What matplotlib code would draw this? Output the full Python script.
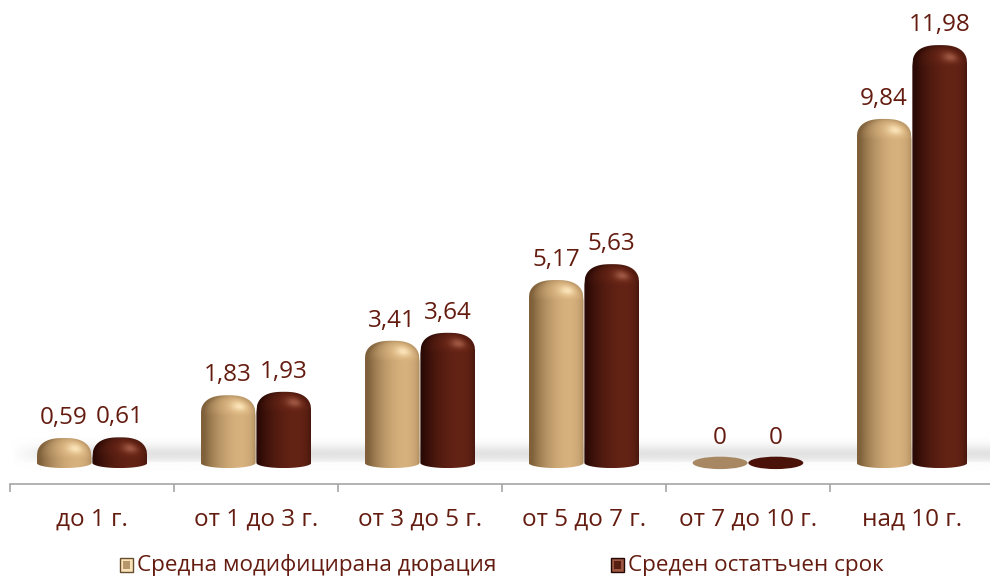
import matplotlib as mpl
mpl.use('Agg')

import numpy as np
import matplotlib.pyplot as plt
from matplotlib.path import Path
from matplotlib.patches import PathPatch, Ellipse, Rectangle

plt.rcParams['font.family'] = ['Open Sans', 'DejaVu Sans']

categories = ['до 1 г.', 'от 1 до 3 г.', 'от 3 до 5 г.', 'от 5 до 7 г.', 'от 7 до 10 г.', 'над 10 г.']
duration = [0.59, 1.83, 3.41, 5.17, 0, 9.84]
maturity = [0.61, 1.93, 3.64, 5.63, 0, 11.98]
series_names = ['Средна модифицирана дюрация', 'Среден остатъчен срок']

text_col = '#641c10'
# (shadow edge, lit, highlight, flat colour for zero-height discs)
palettes = [
    (np.array([0.50, 0.38, 0.23]), np.array([0.89, 0.74, 0.53]), np.array([0.98, 0.89, 0.72]), '#a78863'),
    (np.array([0.17, 0.04, 0.02]), np.array([0.42, 0.15, 0.09]), np.array([0.62, 0.34, 0.26]), '#4a1208'),
]

BASE_Y = -0.13      # centre of the bar's bottom ellipse
BASE_RY = 0.15
BAR_W = 0.335
OFFSETS = [-0.17, 0.17]


def bar_path(xc, w, top, ryt, n=2.6):
    hw = w / 2
    t = np.linspace(np.pi, 2 * np.pi, 40)
    bx = xc + hw * np.cos(t)
    by = BASE_Y + BASE_RY * np.sin(t)
    u = np.linspace(1, -1, 80)
    tx = xc + hw * u
    ty = (top - ryt) + ryt * (1 - np.abs(u) ** n) ** (1 / n)
    xs = np.concatenate([bx, [xc + hw], tx])
    ys = np.concatenate([by, [top - ryt], ty])
    verts = np.column_stack([xs, ys])
    verts = np.vstack([verts, verts[:1]])
    codes = [Path.MOVETO] + [Path.LINETO] * (len(verts) - 2) + [Path.CLOSEPOLY]
    return Path(verts, codes)


def shaded(top, ryt, pal, ny=200, nx=80):
    edge, lit, hi, _ = pal
    y0 = BASE_Y - BASE_RY
    ys = np.linspace(top, y0, ny)[:, None]
    u = np.linspace(-1, 1, nx)[None, :]
    v = np.clip((ys - (top - ryt)) / ryt, 0, 1)
    nz = np.sqrt(np.clip(1 - u ** 2 - v ** 2, 0.02, 1))
    norm = np.sqrt(u ** 2 + v ** 2 + nz ** 2)
    L = np.array([0.4, 0.45, 0.8])
    L = L / np.linalg.norm(L)
    d = np.clip((u * L[0] + v * L[1] + nz * L[2]) / norm, 0, 1)
    spec = d ** 22 * np.clip(v * 2.5, 0, 1)
    img = edge[None, None, :] + (lit - edge)[None, None, :] * (d[..., None] ** 1.2)
    img = img + (hi - lit)[None, None, :] * spec[..., None]
    return np.clip(img, 0, 1), y0


fig = plt.figure(figsize=(9.9, 5.79), dpi=100)
ax = fig.add_axes([0, 0, 1, 1])
ax.set_xlim(-0.561, 5.476)
ax.set_ylim(-3.496, 13.287)

# floor band behind the bars
yy = np.linspace(0.6, -0.4, 80)
prof = np.exp(-((yy - 0.12) / 0.26) ** 2)
prof[yy < -0.12] *= 0.3
fade = np.clip((np.linspace(-0.5, 5.476, 400) + 0.5) / 0.3, 0, 1)
band = np.zeros((80, 400, 4))
band[..., :3] = 0.80
band[..., 3] = prof[:, None] * fade[None, :] * 0.55
ax.imshow(band, extent=(-0.5, 5.476, -0.4, 0.6), aspect='auto', zorder=1, interpolation='bilinear')

for s, vals in enumerate([duration, maturity]):
    pal = palettes[s]
    for i, v in enumerate(vals):
        xc = i + OFFSETS[s]
        if v == 0:
            ax.add_patch(Ellipse((xc, BASE_Y), BAR_W, 0.36, facecolor=pal[3], edgecolor='none', zorder=3))
            top = 0
        else:
            top = v
            ryt = min(0.6, (top - BASE_Y) * 0.85)
            path = bar_path(xc, BAR_W, top, ryt)
            patch = PathPatch(path, facecolor='none', edgecolor='none', zorder=3)
            ax.add_patch(patch)
            img, y0 = shaded(top, ryt, pal)
            im = ax.imshow(img, extent=(xc - BAR_W / 2, xc + BAR_W / 2, y0, top),
                           aspect='auto', zorder=3 + s, interpolation='bilinear')
            im.set_clip_path(patch)
        label = '0' if v == 0 else f'{v:.2f}'.replace('.', ',')
        ax.annotate(label, (xc, top), xytext=(0, 14.5), textcoords='offset points',
                    ha='center', va='center', fontsize=17.5, color=text_col, zorder=6)

# category axis
for side in ['top', 'left', 'right']:
    ax.spines[side].set_visible(False)
ax.spines['bottom'].set_position(('data', -0.742))
ax.spines['bottom'].set_bounds(-0.5, 5.476)
ax.spines['bottom'].set_color('#a6a6a6')
ax.spines['bottom'].set_linewidth(1.2)
ax.set_yticks([])
ax.set_xticks(range(len(categories)), categories)
ax.set_xticks(np.arange(-0.5, 5.0, 1.0), minor=True)
ax.tick_params(axis='x', which='major', length=0, pad=17, labelsize=17.5, labelcolor=text_col)
ax.tick_params(axis='x', which='minor', length=6, width=1.2, color='#a6a6a6', direction='out')

# legend
for (mx, tx), name, pal in zip([(120, 137), (611, 628)], series_names, palettes):
    fx, fy = mx / 990, 1 - 572 / 579
    sw, sh = 13 / 990, 14 / 579
    ax.add_patch(Rectangle((fx, fy), sw, sh, transform=fig.transFigure, facecolor=pal[2],
                           edgecolor=pal[0] * 0.8, linewidth=1.0, zorder=5))
    ax.add_patch(Rectangle((fx + 3 / 990, fy + 3 / 579), 7 / 990, 8 / 579, transform=fig.transFigure,
                           facecolor=pal[1] * 0.8, edgecolor='none', zorder=6))
    fig.text(tx / 990, 1 - 565 / 579, name, fontsize=16.2, color=text_col, va='center', ha='left')

fig.savefig('out.png', dpi=100)
